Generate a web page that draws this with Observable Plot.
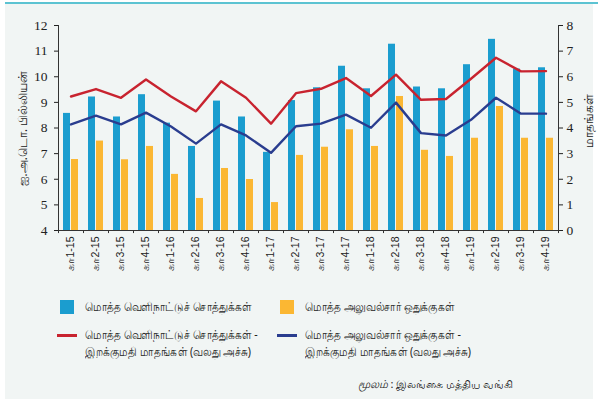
<!DOCTYPE html>
<html>
<head>
<meta charset="utf-8">
<script src="https://cdn.jsdelivr.net/npm/d3@7"></script>
<script src="https://cdn.jsdelivr.net/npm/@observablehq/plot@0.6"></script>
<style>
  html, body { margin: 0; padding: 0; background: #ffffff; }
  #wrap { position: relative; width: 598px; height: 401px; overflow: hidden; }
  #panel { position: absolute; left: 5px; top: 3px; width: 588px; height: 396px; background: #f1f5f4; }
  #topline { position: absolute; left: 5px; top: 2px; width: 593px; height: 2px; background: #5cc3d2; }
  #chart { position: absolute; left: 0; top: 0; }
  .ylab { position: absolute; font-family: "Noto Sans", "DejaVu Sans", sans-serif; font-size: 12px; color: #222; white-space: nowrap; transform: rotate(-90deg); transform-origin: center center; text-align: center; }
  .leg { position: absolute; font-family: "Noto Sans", "DejaVu Sans", sans-serif; font-size: 12px; color: #222; line-height: 17px; white-space: nowrap; transform: scaleX(0.88); transform-origin: left center; }
  .sw { position: absolute; width: 14px; height: 14px; }
  .ln { position: absolute; width: 20px; height: 3px; }
  #src { position: absolute; right: 85px; top: 376px; font-family: "Noto Sans", "DejaVu Sans", sans-serif; font-size: 11px; color: #222; white-space: nowrap; }
</style>
</head>
<body>
<div id="wrap">
  <div id="panel"></div>
  <div id="topline"></div>
  <div id="chart"></div>
  <div class="ylab" id="ylabL" style="left:-43px; top:120px; width:130px;">ஐ.அ.டொ. பில்லியன்</div>
  <div class="ylab" id="ylabR" style="left:553px; top:112px; width:70px;">மாதங்கள்</div>
  <div class="sw" style="left:60px; top:300px; background:#1b9dcf;"></div>
  <div class="leg" style="left:85px; top:298px;">மொத்த வெளிநாட்டுச் சொத்துக்கள்</div>
  <div class="sw" style="left:280px; top:300px; background:#fbb733;"></div>
  <div class="leg" style="left:305px; top:298px;">மொத்த அலுவல்சார் ஒதுக்குகள்</div>
  <div class="ln" style="left:57px; top:334px; background:#c8232f;"></div>
  <div class="leg" style="left:85px; top:326px;">மொத்த வெளிநாட்டுச் சொத்துக்கள் -<br>இறக்குமதி மாதங்கள் (வலது அச்சு)</div>
  <div class="ln" style="left:277px; top:334px; background:#2a3d8f;"></div>
  <div class="leg" style="left:305px; top:326px;">மொத்த அலுவல்சார் ஒதுக்குகள் -<br>இறக்குமதி மாதங்கள் (வலது அச்சு)</div>
  <div id="src"><i>மூலம்</i> : இலங்கை மத்திய வங்கி</div>
</div>
<script>
const quarters = ["கா1-15","கா2-15","கா3-15","கா4-15","கா1-16","கா2-16","கா3-16","கா4-16","கா1-17","கா2-17","கா3-17","கா4-17","கா1-18","கா2-18","கா3-18","கா4-18","கா1-19","கா2-19","கா3-19","கா4-19"];
// US$ billion (left axis)
const totalAssets = [8.57, 9.21, 8.43, 9.30, 8.19, 7.28, 9.05, 8.43, 7.05, 9.07, 9.57, 10.41, 9.53, 11.27, 9.60, 9.53, 10.47, 11.46, 10.30, 10.35];
const officialReserves = [6.77, 7.49, 6.76, 7.28, 6.19, 5.25, 6.42, 5.99, 5.09, 6.93, 7.25, 7.93, 7.28, 9.23, 7.13, 6.89, 7.60, 8.84, 7.60, 7.60];
// months of imports (right axis)
const assetsMonths = [5.23, 5.52, 5.18, 5.89, 5.23, 4.65, 5.82, 5.18, 4.17, 5.36, 5.53, 5.95, 5.25, 6.08, 5.10, 5.13, 5.92, 6.74, 6.21, 6.22];
const reservesMonths = [4.14, 4.48, 4.14, 4.60, 4.06, 3.39, 4.14, 3.71, 3.03, 4.07, 4.17, 4.52, 4.01, 4.99, 3.80, 3.71, 4.32, 5.18, 4.56, 4.56];
const leftTicks = [4, 5, 6, 7, 8, 9, 10, 11, 12];
const rightTicks = [0, 1, 2, 3, 4, 5, 6, 7, 8];

const offset = 4; // right axis 0 maps to left axis 4
const rows = quarters.map((q, i) => ({q, a: totalAssets[i], r: officialReserves[i], am: assetsMonths[i] + offset, rm: reservesMonths[i] + offset}));

const W = 598, H = 285, ML = 58, MR = 40;
const bw = (W - ML - MR) / quarters.length;

const chart = Plot.plot({
  width: W, height: H,
  marginLeft: ML, marginRight: MR, marginTop: 25, marginBottom: 55,
  style: {background: "transparent", fontFamily: "'Liberation Serif', serif", fontSize: "13px", color: "#222"},
  x: {domain: quarters, padding: 0, axis: null},
  y: {domain: [4, 12], axis: null},
  marks: [
    Plot.barY(rows, {x: "q", y1: 4, y2: "a", fill: "#1b9dcf", insetLeft: 5, insetRight: bw - 12}),
    Plot.barY(rows, {x: "q", y1: 4, y2: "r", fill: "#fbb733", insetLeft: 13, insetRight: 5}),
    Plot.lineY(rows, {x: "q", y: "am", stroke: "#c8232f", strokeWidth: 2.4}),
    Plot.lineY(rows, {x: "q", y: "rm", stroke: "#2a3d8f", strokeWidth: 2.4}),
    Plot.ruleY([4], {stroke: "#333", strokeWidth: 1}),
    Plot.ruleX([quarters[0]], {y1: 4, y2: 12, dx: -bw / 2, stroke: "#333"}),
    Plot.ruleX([quarters[quarters.length - 1]], {y1: 4, y2: 12, dx: bw / 2, stroke: "#333"}),
    Plot.ruleX(quarters, {y1: 4, y2: 3.88, dx: -bw / 2, stroke: "#333"}),
    Plot.ruleX([quarters[quarters.length - 1]], {y1: 4, y2: 3.88, dx: bw / 2, stroke: "#333"}),
    Plot.axisY(leftTicks, {anchor: "left", tickSize: 4, tickPadding: 7, label: null, fontSize: 13.5}),
    Plot.axisY(rightTicks.map(d => d + offset), {anchor: "right", tickSize: 4, tickPadding: 4, label: null, tickFormat: d => d - offset, fontSize: 13.5}),
    Plot.axisX({anchor: "bottom", tickSize: 0, tickPadding: 6, tickRotate: -90, label: null, fontFamily: "'Liberation Sans', sans-serif", fontSize: 10.5})
  ]
});
document.getElementById("chart").appendChild(chart);
</script>
</body>
</html>
